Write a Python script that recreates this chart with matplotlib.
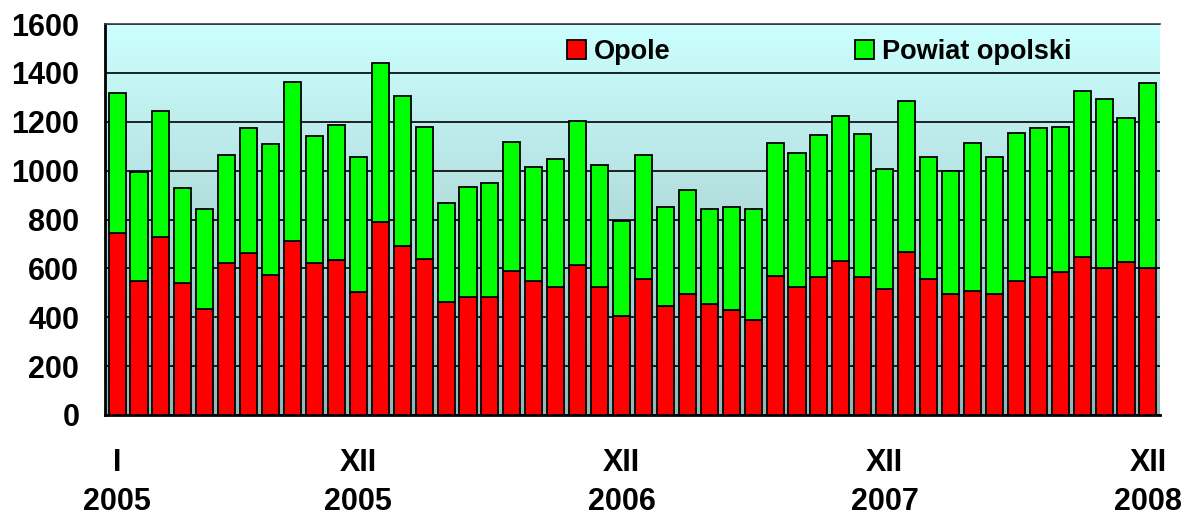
import numpy as np
import matplotlib
matplotlib.use("Agg")
import matplotlib.pyplot as plt
from matplotlib.colors import LinearSegmentedColormap
from matplotlib.patches import Patch

# ---- data ----
opole = [743, 550, 727, 541, 432, 620, 664, 573, 713, 620, 634, 505,
         791, 693, 637, 461, 484, 481, 590, 548, 525, 614, 525, 405,
         555, 446, 495, 454, 430, 389, 569, 523, 563, 631, 566, 514,
         668, 555, 495, 509, 495, 550, 566, 584, 645, 600, 627, 600]
total = [1319, 993, 1245, 930, 843, 1064, 1173, 1107, 1364, 1141, 1185, 1054,
         1439, 1305, 1180, 866, 934, 948, 1117, 1015, 1046, 1204, 1023, 794,
         1064, 852, 920, 845, 850, 843, 1111, 1073, 1145, 1225, 1150, 1006,
         1285, 1057, 998, 1111, 1054, 1156, 1173, 1177, 1327, 1295, 1214, 1357]
powiat = [t - o for t, o in zip(total, opole)]
series_names = ["Opole", "Powiat opolski"]
tick_positions = [0, 11, 23, 35, 47]
tick_labels = ["I\n2005", "XII\n2005", "XII\n2006", "XII\n2007", "XII\n2008"]
yticks = list(range(0, 1601, 200))

plt.rcParams['font.family'] = ['Liberation Sans', 'DejaVu Sans']
plt.rcParams['font.weight'] = 'bold'

W, H = 1189, 516
fig = plt.figure(figsize=(W / 100, H / 100), dpi=100)
fig.patch.set_facecolor('white')
ax = fig.add_axes([105 / W, (H - 415) / H, 1055 / W, 391 / H])

# gradient background
cmap = LinearSegmentedColormap.from_list('bg', ['#90B8B8', '#B2DCDC', '#CCFFFF'])
grad = np.linspace(0, 1, 256).reshape(-1, 1)
ax.imshow(grad, extent=[0, 1, 0, 1], transform=ax.transAxes, aspect='auto',
          cmap=cmap, origin='lower', zorder=0)
ax.patch.set_visible(False)

x = np.arange(len(opole))
ax.bar(x, opole, width=0.78, color='#FF0000', edgecolor='black', linewidth=1.3,
       zorder=3, label=series_names[0])
ax.bar(x, powiat, bottom=opole, width=0.78, color='#00FF00', edgecolor='black',
       linewidth=1.3, zorder=3, label=series_names[1])

ax.set_xlim(-0.55, 47.55)
ax.set_ylim(0, 1600)
ax.set_yticks(yticks)
ax.set_yticklabels([str(v) for v in yticks], fontsize=22, fontweight='bold')
ax.tick_params(axis='y', length=0, pad=18.5)
ax.yaxis.grid(True, color='black', linewidth=1.2, zorder=1)
ax.set_axisbelow(True)

ax.set_xticks(tick_positions)
ax.set_xticklabels(tick_labels, fontsize=22, fontweight='bold', linespacing=1.38)
ax.tick_params(axis='x', length=0, pad=24)

for s in ['left', 'bottom']:
    ax.spines[s].set_color('black')
    ax.spines[s].set_linewidth(2)
ax.spines['top'].set_color('#404040')
ax.spines['top'].set_linewidth(1.2)
ax.spines['right'].set_visible(False)

handles = [Patch(facecolor='#FF0000', edgecolor='black', linewidth=1.3),
           Patch(facecolor='#00FF00', edgecolor='black', linewidth=1.3)]
leg = ax.legend(handles, series_names, loc='center left',
                bbox_to_anchor=((567 - 105) / 1055, (415 - 52) / 391),
                ncol=2, frameon=False, borderpad=0, borderaxespad=0,
                handlelength=0.7, handleheight=0.7, handletextpad=0.3,
                columnspacing=6.8, prop={'size': 19.5, 'weight': 'bold'})

fig.savefig('out.png', dpi=100)
